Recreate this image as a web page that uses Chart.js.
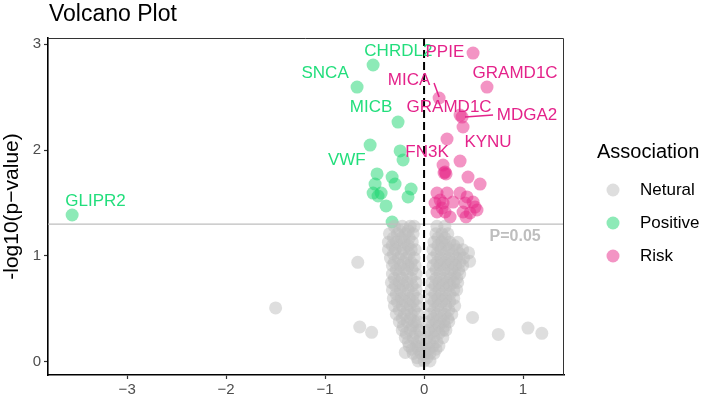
<!DOCTYPE html>
<html><head><meta charset="utf-8">
<script src="https://cdn.jsdelivr.net/npm/chart.js@4.4.0/dist/chart.umd.min.js"></script>
<style>html,body{margin:0;padding:0;background:#fff;}#wrap{width:708px;height:401px;position:relative;}</style>
</head><body><div id="wrap"><canvas id="c" width="708" height="401"></canvas></div>
<script>
// ---- data (x = log fold change, y = -log10(p)) ----
const groups = ['Netural', 'Positive', 'Risk'];
const xTicks = [-3, -2, -1, 0, 1];
const yTicks = [0, 1, 2, 3];
const pThreshold = 0.05;

const neturalPoints = [
  [-0.30,1.28],[-0.22,1.28],[-0.14,1.28],[-0.10,1.28],[0.13,1.28],[0.21,1.28],
  [-0.25,1.24],[-0.16,1.24],
  [-0.35,1.21],[-0.27,1.21],[-0.19,1.21],[-0.11,1.21],[0.12,1.21],[0.18,1.21],[0.24,1.21],
  [-0.31,1.17],[-0.23,1.17],[-0.15,1.17],[0.14,1.17],[0.21,1.17],
  [-0.36,1.13],[-0.28,1.13],[-0.20,1.13],[-0.12,1.13],[0.10,1.13],[0.18,1.13],[0.26,1.13],[0.34,1.13],
  [-0.32,1.10],[-0.24,1.10],[-0.16,1.10],[0.14,1.10],[0.22,1.10],[0.30,1.10],
  [-0.36,1.06],[-0.29,1.06],[-0.21,1.06],[-0.13,1.06],[-0.09,1.06],[0.09,1.06],[0.17,1.06],[0.25,1.06],[0.33,1.06],[0.39,1.06],
  [-0.31,1.02],[-0.23,1.02],[-0.15,1.02],[0.13,1.02],[0.21,1.02],[0.29,1.02],[0.36,1.02],[0.45,1.03],
  [-0.34,0.98],[-0.26,0.98],[-0.18,0.98],[-0.10,0.98],[0.09,0.98],[0.17,0.98],[0.25,0.98],[0.33,0.98],[0.40,0.98],[0.46,0.95],
  [-0.30,0.94],[-0.21,0.94],[-0.13,0.94],[0.13,0.94],[0.21,0.94],[0.28,0.94],[0.36,0.94],
  [-0.32,0.91],[-0.24,0.91],[-0.16,0.91],[-0.09,0.91],[0.09,0.91],[0.16,0.91],[0.24,0.91],[0.32,0.91],[0.39,0.91],
  [-0.28,0.87],[-0.20,0.87],[-0.12,0.87],[0.12,0.87],[0.20,0.87],[0.28,0.87],[0.35,0.87],
  [-0.32,0.83],[-0.25,0.83],[-0.17,0.83],[-0.08,0.83],[0.08,0.83],[0.16,0.83],[0.24,0.83],[0.31,0.83],[0.36,0.83],
  [-0.30,0.79],[-0.22,0.79],[-0.13,0.79],[0.12,0.79],[0.20,0.79],[0.27,0.79],[0.33,0.79],
  [-0.33,0.75],[-0.25,0.75],[-0.17,0.75],[-0.08,0.75],[0.08,0.75],[0.15,0.75],[0.23,0.75],[0.30,0.75],[0.34,0.75],
  [-0.29,0.72],[-0.21,0.72],[-0.12,0.72],[0.11,0.72],[0.19,0.72],[0.26,0.72],
  [-0.32,0.68],[-0.24,0.68],[-0.16,0.68],[-0.08,0.68],[0.07,0.68],[0.15,0.68],[0.22,0.68],[0.30,0.68],[0.33,0.68],
  [-0.28,0.64],[-0.20,0.64],[-0.11,0.64],[0.11,0.64],[0.18,0.64],[0.26,0.64],
  [-0.31,0.60],[-0.23,0.60],[-0.15,0.60],[-0.07,0.60],[0.07,0.60],[0.14,0.60],[0.22,0.60],[0.30,0.60],
  [-0.27,0.57],[-0.19,0.57],[-0.11,0.57],[0.10,0.57],[0.18,0.57],[0.26,0.57],
  [-0.30,0.53],[-0.22,0.53],[-0.14,0.53],[-0.07,0.53],[0.06,0.53],[0.14,0.53],[0.22,0.53],[0.31,0.53],
  [-0.25,0.49],[-0.17,0.49],[-0.10,0.49],[0.10,0.49],[0.17,0.49],[0.25,0.49],
  [-0.28,0.45],[-0.20,0.45],[-0.13,0.45],[-0.06,0.45],[0.06,0.45],[0.13,0.45],[0.21,0.45],[0.28,0.45],
  [-0.22,0.41],[-0.14,0.41],[0.09,0.41],[0.17,0.41],[0.24,0.41],
  [-0.25,0.38],[-0.17,0.38],[-0.10,0.38],[-0.06,0.38],[0.05,0.38],[0.12,0.38],[0.20,0.38],[0.25,0.38],
  [-0.21,0.34],[-0.12,0.34],[-0.08,0.34],[0.08,0.34],[0.15,0.34],[0.21,0.34],
  [-0.22,0.30],[-0.14,0.30],[-0.05,0.30],[0.04,0.30],[0.11,0.30],[0.19,0.30],[0.22,0.30],
  [-0.18,0.27],[-0.09,0.27],[0.07,0.27],[0.15,0.27],
  [-0.19,0.23],[-0.11,0.23],[-0.04,0.23],[0.03,0.23],[0.10,0.23],[0.19,0.23],
  [-0.16,0.19],[-0.07,0.19],[0.06,0.19],[0.13,0.19],
  [-0.15,0.15],[-0.08,0.15],[-0.03,0.15],[0.02,0.15],[0.09,0.15],[0.15,0.15],
  [-0.12,0.12],[-0.06,0.12],[0.05,0.12],[0.12,0.12],
  [-0.11,0.08],[-0.03,0.08],[0.01,0.08],[0.06,0.08],[0.10,0.08],
  [-0.07,0.04],[0.03,0.04],
  [-0.06,0.01],[0.00,0.01],[0.06,0.01],
  [-1.50,0.51],[-0.67,0.94],[-0.65,0.33],[-0.53,0.28],[-0.19,0.09],
  [0.49,0.42],[0.75,0.26],[1.05,0.32],[1.19,0.27]
];

const positivePoints = [
  [-3.556,1.387],[-0.677,2.594],[-0.515,2.802],[-0.263,2.264],[-0.545,2.047],
  [-0.242,1.991],[-0.212,1.906],[-0.475,1.774],[-0.323,1.745],[-0.293,1.679],
  [-0.495,1.679],[-0.131,1.632],[-0.515,1.594],[-0.465,1.566],[-0.434,1.594],
  [-0.162,1.557],[-0.384,1.472],[-0.323,1.321]
];

const riskPoints = [
  [0.495,2.915],[0.636,2.594],[0.152,2.491],[0.364,2.330],[0.384,2.311],
  [0.394,2.217],[0.232,2.104],[0.364,1.896],[0.192,1.858],[0.202,1.783],
  [0.212,1.792],[0.222,1.774],[0.444,1.745],[0.566,1.679],[0.131,1.594],
  [0.232,1.594],[0.364,1.594],[0.434,1.557],[0.111,1.500],[0.192,1.500],
  [0.293,1.509],[0.414,1.500],[0.495,1.509],[0.535,1.434],[0.131,1.415],
  [0.212,1.415],[0.263,1.368],[0.394,1.415],[0.465,1.406],[0.182,1.453],
  [0.162,1.528],[0.424,1.368],[0.515,1.462]
];

// gene labels: text, group, label anchor (data units)
const geneNames  = ['GLIPR2','SNCA','CHRDL2','MICB','VWF','PPIE','GRAMD1C','MICA','GRAMD1C','MDGA2','KYNU','FN3K'];
const geneGroups = ['Positive','Positive','Positive','Positive','Positive','Risk','Risk','Risk','Risk','Risk','Risk','Risk'];
const geneLabelX = [-3.32,-1.00,-0.26,-0.535,-0.78,0.21,0.92,-0.152,0.253,1.04,0.646,0.03];
const geneLabelY = [1.52,2.72,2.93,2.40,1.90,2.925,2.726,2.66,2.406,2.33,2.075,1.98];
// leader segments [x1,y1,x2,y2] in data units
const leaderSegments = [[0.101,2.632,0.152,2.50],[0.414,2.311,0.697,2.330]];

// ---- styles ----
const FONT = '"Liberation Sans", Arial, Helvetica, sans-serif';
const colors = {
  Netural: 'rgba(190,190,190,0.5)',
  Positive: 'rgba(28,214,112,0.5)',
  Risk: 'rgba(231,41,138,0.5)'
};
const textColors = { Positive: '#22DE7C', Risk: '#E4228A' };

const toXY = arr => arr.map(p => ({x: p[0], y: p[1]}));
const fmt = v => (v < 0 ? '\u2212' + Math.abs(v) : String(v));

const decor = {
  id: 'decor',
  afterDatasetsDraw(chart) {
    const {ctx, chartArea: a, scales: {x, y}} = chart;
    ctx.save();
    // threshold line
    const yt = y.getPixelForValue(-Math.log10(pThreshold));
    ctx.strokeStyle = '#BEBEBE'; ctx.lineWidth = 1.4;
    ctx.beginPath(); ctx.moveTo(a.left, yt); ctx.lineTo(a.right, yt); ctx.stroke();
    // vertical dashed line at 0
    const x0 = x.getPixelForValue(0);
    ctx.strokeStyle = '#000'; ctx.lineWidth = 2; ctx.setLineDash([8, 4]);
    ctx.beginPath(); ctx.moveTo(x0, a.top); ctx.lineTo(x0, a.bottom); ctx.stroke();
    ctx.setLineDash([]);
    // P=0.05
    ctx.fillStyle = '#BEBEBE'; ctx.font = 'bold 16px ' + FONT;
    ctx.textAlign = 'center'; ctx.textBaseline = 'middle';
    ctx.fillText('P=' + pThreshold, x.getPixelForValue(0.92), y.getPixelForValue(1.18));
    // leader segments
    ctx.strokeStyle = textColors.Risk; ctx.lineWidth = 1.5;
    leaderSegments.forEach(s => {
      ctx.beginPath();
      ctx.moveTo(x.getPixelForValue(s[0]), y.getPixelForValue(s[1]));
      ctx.lineTo(x.getPixelForValue(s[2]), y.getPixelForValue(s[3]));
      ctx.stroke();
    });
    // gene labels
    ctx.font = '17px ' + FONT;
    geneNames.forEach((t, i) => {
      ctx.fillStyle = textColors[geneGroups[i]];
      ctx.fillText(t, x.getPixelForValue(geneLabelX[i]), y.getPixelForValue(geneLabelY[i]));
    });
    ctx.restore();
  },
  afterDraw(chart) {
    const {ctx, chartArea: a} = chart;
    ctx.save();
    // panel top/right border
    ctx.strokeStyle = '#333'; ctx.lineWidth = 1;
    ctx.beginPath();
    ctx.moveTo(a.left, a.top + 0.5); ctx.lineTo(a.right - 0.5, a.top + 0.5); ctx.lineTo(a.right - 0.5, a.bottom);
    ctx.stroke();
    // title
    ctx.fillStyle = '#000'; ctx.font = '23px ' + FONT;
    ctx.textAlign = 'left'; ctx.textBaseline = 'alphabetic';
    ctx.fillText('Volcano Plot', 49, 21);
    // legend
    ctx.font = '20px ' + FONT; ctx.textBaseline = 'middle';
    ctx.fillText('Association', 597, 152);
    ctx.font = '17px ' + FONT;
    chart.data.datasets.forEach((ds, i) => {
      const yc = 190 + i * 33;
      ctx.fillStyle = ds.backgroundColor;
      ctx.beginPath(); ctx.arc(613, yc, 6.5, 0, Math.PI * 2); ctx.fill();
      ctx.fillStyle = '#000';
      ctx.fillText(ds.label, 640, yc);
    });
    ctx.restore();
  }
};

const tickFont = {family: FONT, size: 15};
new Chart(document.getElementById('c'), {
  type: 'scatter',
  data: {
    datasets: [
      {label: groups[0], data: toXY(neturalPoints), backgroundColor: colors.Netural, pointRadius: 6.5, borderWidth: 0},
      {label: groups[1], data: toXY(positivePoints), backgroundColor: colors.Positive, pointRadius: 6.5, borderWidth: 0},
      {label: groups[2], data: toXY(riskPoints), backgroundColor: colors.Risk, pointRadius: 6.5, borderWidth: 0}
    ]
  },
  options: {
    responsive: false, animation: false, devicePixelRatio: 1, events: [],
    layout: {padding: {left: 0, right: 144, top: 38, bottom: 0}},
    plugins: {legend: {display: false}, title: {display: false}, tooltip: {enabled: false}},
    scales: {
      x: {
        type: 'linear', min: -3.80, max: 1.414,
        afterFit(s) { s.height = 26; },
        afterBuildTicks(s) { s.ticks = xTicks.map(v => ({value: v})); },
        ticks: {callback: v => fmt(v), font: tickFont, color: '#4D4D4D', padding: 2, maxRotation: 0},
        grid: {drawOnChartArea: false, drawTicks: true, tickLength: 4, tickColor: '#333', tickWidth: 1.2},
        border: {display: true, color: '#000', width: 1.6}
      },
      y: {
        type: 'linear', min: -0.123, max: 3.057,
        afterFit(s) { s.width = 48; },
        afterBuildTicks(s) { s.ticks = yTicks.map(v => ({value: v})); },
        ticks: {callback: v => fmt(v), font: tickFont, color: '#4D4D4D', padding: 3},
        title: {display: true, text: '-log10(p\u2212value)', font: {family: FONT, size: 21}, color: '#000', padding: {top: 0, bottom: 0}},
        grid: {drawOnChartArea: false, drawTicks: true, tickLength: 4, tickColor: '#333', tickWidth: 1.2},
        border: {display: true, color: '#000', width: 1.6}
      }
    }
  },
  plugins: [decor]
});
</script>
</body></html>
